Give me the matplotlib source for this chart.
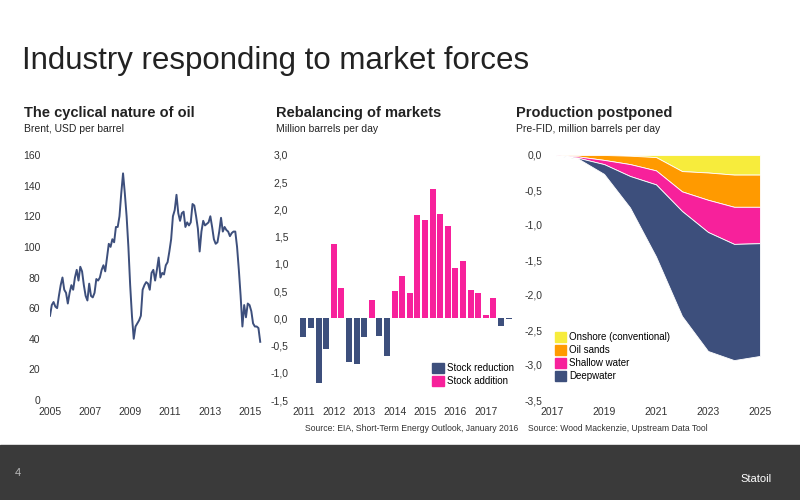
import numpy as np
import matplotlib.pyplot as plt
import matplotlib.patches as mpatches

plt.rcParams['font.family'] = ['Liberation Sans', 'DejaVu Sans']

NAVY = "#3d4f7c"
PINK = "#f7219b"
ORANGE = "#ff9a00"
YELLOW = "#f7ec3c"

# Brent, USD per barrel (roughly monthly)
brent = [55, 62, 64, 61, 60, 68, 75, 80, 72, 70, 63, 70, 75, 72, 80, 85, 78, 87, 84, 75,
         68, 65, 76, 68, 67, 70, 79, 78, 80, 85, 88, 84, 93, 102, 100, 105, 103, 113, 113,
         120, 135, 148, 135, 120, 100, 75, 55, 40, 48, 50, 52, 55, 72, 75, 77, 76, 72, 83,
         85, 78, 85, 93, 80, 83, 82, 88, 90, 97, 105, 120, 124, 134, 122, 117, 122, 123,
         113, 116, 114, 116, 128, 127, 120, 112, 97, 110, 117, 114, 115, 116, 120, 113, 105,
         102, 103, 110, 119, 110, 113, 111, 110, 107, 109, 110, 110, 100, 85, 68, 48, 62, 54,
         63, 62, 58, 50, 48, 48, 47, 38]
brent_years = ["2005", "2007", "2009", "2011", "2013", "2015"]

# Quarterly stock change, million barrels per day
stock = [-0.35, -0.18, -1.18, -0.57, 1.37, 0.55, -0.80, -0.83, -0.35, 0.33, -0.32, -0.70,
         0.50, 0.77, 0.46, 1.90, 1.81, 2.38, 1.92, 1.69, 0.93, 1.05, 0.52, 0.46,
         0.07, 0.38, -0.14, -0.02]
stock_years = ["2011", "2012", "2013", "2014", "2015", "2016", "2017"]

# Postponed production, million barrels per day
prod_years = [2017, 2018, 2019, 2020, 2021, 2022, 2023, 2024, 2025]
onshore = [0, 0, 0, -0.01, -0.03, -0.23, -0.25, -0.28, -0.28]
oil_sands = [0, -0.02, -0.07, -0.12, -0.19, -0.29, -0.39, -0.46, -0.46]
shallow = [0, -0.02, -0.06, -0.17, -0.20, -0.28, -0.46, -0.53, -0.52]
deepwater = [0, -0.01, -0.14, -0.45, -1.03, -1.50, -1.70, -1.66, -1.61]

fig = plt.figure(figsize=(8, 5), dpi=100)
fig.patch.set_facecolor("white")

fig.text(0.028, 0.862, "Industry responding to market forces", fontsize=22.5, color="#222222")

# footer band
fig.patches.append(mpatches.Rectangle((0, 0), 1, 0.11, transform=fig.transFigure,
                                      color="#3a3a3a", zorder=0))
fig.text(0.018, 0.053, "4", fontsize=8, color="#bbbbbb", va="center")
fig.text(0.965, 0.042, "Statoil", fontsize=8, color="white", ha="right", va="center")


def style(ax):
    for s in ax.spines.values():
        s.set_visible(False)
    ax.tick_params(length=0, labelsize=7.5, colors="#333333")
    ax.yaxis.set_tick_params(pad=7)
    ax.xaxis.set_tick_params(pad=5)


def heads(x, title, sub):
    fig.text(x, 0.765, title, fontsize=10.5, fontweight="bold", color="#222222")
    fig.text(x, 0.735, sub, fontsize=7.5, color="#222222")


def comma(vals):
    return [f"{v:.1f}".replace(".", ",") for v in vals]


# left: Brent
ax1 = fig.add_axes([0.0625, 0.2, 0.265, 0.49])
style(ax1)
n = len(brent)
ax1.plot(np.arange(n), brent, color=NAVY, lw=1.4)
span = (n - 1) * 600 / 630
ax1.set_xticks(np.linspace(0, span, 6))
ax1.set_xticklabels(brent_years)
ax1.set_xlim(0, n)
ax1.set_ylim(0, 160)
ax1.set_yticks(range(0, 161, 20))
heads(0.03, "The cyclical nature of oil", "Brent, USD per barrel")

# middle: stock changes
ax2 = fig.add_axes([0.3725, 0.2, 0.27, 0.49])
style(ax2)
xs = np.arange(len(stock))
cols = [NAVY if v < 0 else PINK for v in stock]
ax2.bar(xs, stock, width=0.78, color=cols)
ax2.set_xlim(-0.7, len(stock) - 0.3)
ax2.set_ylim(-1.5, 3.0)
ax2.set_yticks(np.arange(-1.5, 3.01, 0.5))
ax2.set_yticklabels(comma(np.arange(-1.5, 3.01, 0.5)))
ax2.set_xticks(np.arange(0, len(stock), 4))
ax2.set_xticklabels(stock_years)
ax2.legend(handles=[mpatches.Patch(color=NAVY, label="Stock reduction"),
                    mpatches.Patch(color=PINK, label="Stock addition")],
           loc="lower right", bbox_to_anchor=(1.04, 0.02), frameon=False, fontsize=7,
           handlelength=1.2, handleheight=1.2, handletextpad=0.3, labelspacing=0.3)
heads(0.345, "Rebalancing of markets", "Million barrels per day")
fig.text(0.381, 0.138, "Source: EIA, Short-Term Energy Outlook, January 2016", fontsize=6.2,
         color="#333333")

# right: postponed production
ax3 = fig.add_axes([0.69, 0.2, 0.26, 0.49])
style(ax3)
ax3.stackplot(prod_years, onshore, oil_sands, shallow, deepwater,
              colors=[YELLOW, ORANGE, PINK, NAVY], edgecolor="white", linewidth=0.6)
ax3.set_xlim(2017, 2025)
ax3.set_ylim(-3.5, 0)
ax3.set_yticks(np.arange(-3.5, 0.01, 0.5))
ax3.set_yticklabels(comma(np.arange(-3.5, 0.01, 0.5)))
ax3.set_xticks([2017, 2019, 2021, 2023, 2025])
ax3.legend(handles=[mpatches.Patch(color=YELLOW, label="Onshore (conventional)"),
                    mpatches.Patch(color=ORANGE, label="Oil sands"),
                    mpatches.Patch(color=PINK, label="Shallow water"),
                    mpatches.Patch(color=NAVY, label="Deepwater")],
           loc="lower left", bbox_to_anchor=(-0.03, 0.04), frameon=False, fontsize=7,
           handlelength=1.2, handleheight=1.2, handletextpad=0.3, labelspacing=0.3)
heads(0.645, "Production postponed", "Pre-FID, million barrels per day")
fig.text(0.66, 0.138, "Source: Wood Mackenzie, Upstream Data Tool", fontsize=6.2,
         color="#333333")

fig.savefig("out.png", dpi=100)
